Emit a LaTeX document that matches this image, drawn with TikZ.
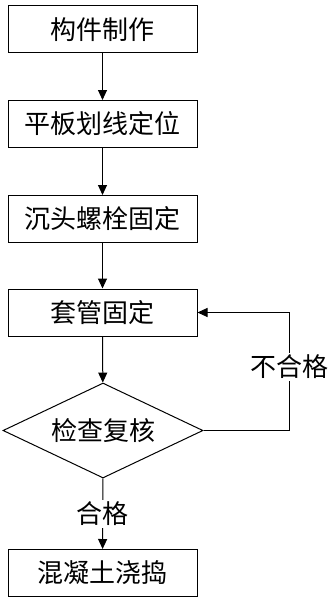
\documentclass[tikz,border=0pt]{standalone}
\usepackage{fontspec}
\newfontfamily\cjk{Noto Sans CJK SC}
\usetikzlibrary{arrows.meta,shapes.geometric}

\begin{document}
\begin{tikzpicture}[x=1pt,y=-1pt,line width=1pt,
                    box/.style={draw,minimum width=189pt,minimum height=47pt,align=center,inner sep=0pt,font=\cjk\fontsize{26}{30}\selectfont},
                    check/.style={draw,diamond,aspect=2,minimum width=200pt,minimum height=95pt,inner sep=0pt,font=\cjk\fontsize{26}{30}\selectfont},
                    lbl/.style={fill=white,inner sep=2pt,font=\cjk\fontsize{26}{30}\selectfont},
                    >={Triangle[length=10pt,width=9pt]}]
\useasboundingbox (0,0) rectangle (334,602);
\node[box]   (make)   at (102.5,29.5) {构件制作};
\node[box]   (mark)   at (102.5,124)  {平板划线定位};
\node[box]   (bolt)   at (102.5,219)  {沉头螺栓固定};
\node[box]   (sleeve) at (102.5,312.5){套管固定};
\node[check] (chk)    at (103,430.5)  {检查复核};
\node[box]   (pour)   at (102.5,573)  {混凝土浇捣};
\draw[->] (make) -- (mark);
\draw[->] (mark) -- (bolt);
\draw[->] (bolt) -- (sleeve);
\draw[->] (sleeve) -- (chk);
\draw[->] (chk) -- node[lbl]{合格} (pour);
\draw[->] (chk.east) -- ++(86,0) |- node[lbl,pos=0.27]{不合格} (sleeve.east);
\end{tikzpicture}
\end{document}
